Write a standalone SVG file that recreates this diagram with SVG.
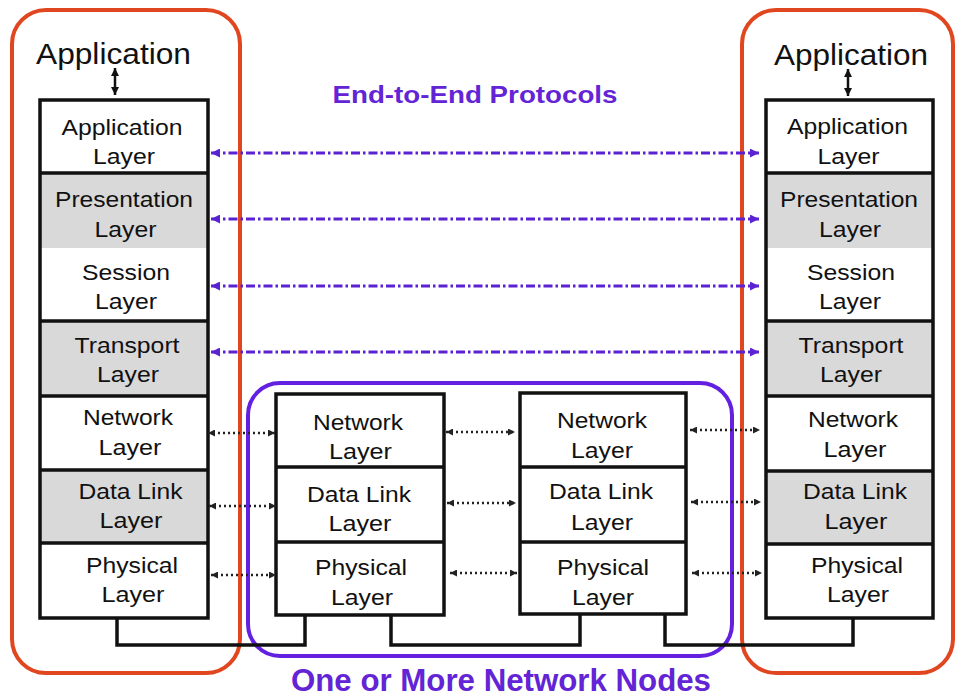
<svg xmlns="http://www.w3.org/2000/svg" width="957" height="697" viewBox="0 0 957 697">
<style>
.t{font-family:"Liberation Sans",Arial,sans-serif;font-size:22px;fill:#111;text-anchor:middle}
.big{font-family:"Liberation Sans",Arial,sans-serif;font-size:29px;fill:#111;text-anchor:middle}
.ttl{font-family:"Liberation Sans",Arial,sans-serif;font-weight:bold;fill:#6324d6;text-anchor:middle}
.w{fill:#fff}
.g{fill:#d9d9d9}
.div{stroke:#111;stroke-width:3.5}
.frame{fill:none;stroke:#111;stroke-width:3.5}
.orange{fill:none;stroke:#e0461f;stroke-width:4}
.purple{fill:none;stroke:#6420e0;stroke-width:4}
.dot{stroke:#222;stroke-width:2.5;stroke-dasharray:2 3;fill:none;marker-start:url(#ab);marker-end:url(#ab)}
.dd{stroke:#5a22d2;stroke-width:3;stroke-dasharray:9 3 2.5 3;fill:none;marker-start:url(#ap);marker-end:url(#ap)}
.wire{stroke:#111;stroke-width:3.5;fill:none}
.va{stroke:#111;stroke-width:2.5;fill:none;marker-start:url(#ak);marker-end:url(#ak)}
</style>
<defs>
<marker id="ab" viewBox="0 0 10 10" refX="10" refY="5" markerWidth="8" markerHeight="7" orient="auto-start-reverse" markerUnits="userSpaceOnUse"><path d="M0,0 L10,5 L0,10 z" fill="#222"/></marker>
<marker id="ap" viewBox="0 0 10 10" refX="10" refY="5" markerWidth="11" markerHeight="9" orient="auto-start-reverse" markerUnits="userSpaceOnUse"><path d="M0,0 L10,5 L0,10 z" fill="#5a22d2"/></marker>
<marker id="ak" viewBox="0 0 10 10" refX="10" refY="5" markerWidth="8" markerHeight="8" orient="auto-start-reverse" markerUnits="userSpaceOnUse"><path d="M0,0 L10,5 L0,10 z" fill="#111"/></marker>
</defs>
<rect width="957" height="697" fill="#fff"/>

<!-- frames -->
<g id="left-host-frame"><rect class="orange" x="12" y="10" width="228" height="663" rx="34"/></g>
<g id="right-host-frame"><rect class="orange" x="742" y="10" width="211" height="663" rx="34"/></g>
<g id="network-nodes-frame"><rect class="purple" x="248" y="383" width="484" height="273" rx="32"/></g>

<!-- titles -->
<text class="ttl" x="475" y="103" font-size="24" textLength="285" lengthAdjust="spacingAndGlyphs">End-to-End Protocols</text>
<text class="ttl" x="501" y="691" font-size="31" textLength="420" lengthAdjust="spacingAndGlyphs">One or More Network Nodes</text>

<!-- application labels -->
<g id="left-application"><text class="big" x="113.5" y="64" textLength="155" lengthAdjust="spacingAndGlyphs">Application</text></g>
<g id="right-application"><text class="big" x="851" y="65" textLength="154" lengthAdjust="spacingAndGlyphs">Application</text></g>

<!-- left stack -->
<g id="left-stack">
<g id="left-application-layer"><rect class="w" x="40" y="100" width="168" height="73"/><text class="t" x="122" y="135" textLength="121" lengthAdjust="spacingAndGlyphs">Application</text><text class="t" x="124" y="164" textLength="62" lengthAdjust="spacingAndGlyphs">Layer</text></g>
<g id="left-presentation-layer"><rect class="g" x="40" y="173" width="168" height="75"/><text class="t" x="124" y="207" textLength="138" lengthAdjust="spacingAndGlyphs">Presentation</text><text class="t" x="125.5" y="237" textLength="62" lengthAdjust="spacingAndGlyphs">Layer</text></g>
<g id="left-session-layer"><rect class="w" x="40" y="248" width="168" height="73"/><text class="t" x="126" y="280" textLength="88" lengthAdjust="spacingAndGlyphs">Session</text><text class="t" x="126" y="309" textLength="62" lengthAdjust="spacingAndGlyphs">Layer</text></g>
<g id="left-transport-layer"><rect class="g" x="40" y="321" width="168" height="75"/><text class="t" x="127" y="353" textLength="105" lengthAdjust="spacingAndGlyphs">Transport</text><text class="t" x="128" y="382" textLength="62" lengthAdjust="spacingAndGlyphs">Layer</text></g>
<g id="left-network-layer"><rect class="w" x="40" y="396" width="168" height="74"/><text class="t" x="128" y="425" textLength="90" lengthAdjust="spacingAndGlyphs">Network</text><text class="t" x="130" y="455" textLength="63" lengthAdjust="spacingAndGlyphs">Layer</text></g>
<g id="left-datalink-layer"><rect class="g" x="40" y="470" width="168" height="73"/><text class="t" x="130.5" y="499" textLength="104" lengthAdjust="spacingAndGlyphs">Data Link</text><text class="t" x="131" y="528" textLength="63" lengthAdjust="spacingAndGlyphs">Layer</text></g>
<g id="left-physical-layer"><rect class="w" x="40" y="543" width="168" height="75"/><text class="t" x="132" y="573" textLength="92" lengthAdjust="spacingAndGlyphs">Physical</text><text class="t" x="133" y="602" textLength="63" lengthAdjust="spacingAndGlyphs">Layer</text></g>
<path class="div" d="M40,173H208M40,321H208M40,396H208M40,470H208M40,543H208"/>
<rect class="frame" x="40" y="100" width="168" height="518"/>
</g>

<!-- right stack -->
<g id="right-stack">
<g id="right-application-layer"><rect class="w" x="766" y="100" width="167" height="73"/><text class="t" x="847.5" y="134" textLength="121" lengthAdjust="spacingAndGlyphs">Application</text><text class="t" x="848.5" y="164" textLength="62" lengthAdjust="spacingAndGlyphs">Layer</text></g>
<g id="right-presentation-layer"><rect class="g" x="766" y="173" width="167" height="75"/><text class="t" x="849" y="207" textLength="138" lengthAdjust="spacingAndGlyphs">Presentation</text><text class="t" x="850" y="237" textLength="62" lengthAdjust="spacingAndGlyphs">Layer</text></g>
<g id="right-session-layer"><rect class="w" x="766" y="248" width="167" height="73"/><text class="t" x="851" y="280" textLength="88" lengthAdjust="spacingAndGlyphs">Session</text><text class="t" x="850" y="309" textLength="62" lengthAdjust="spacingAndGlyphs">Layer</text></g>
<g id="right-transport-layer"><rect class="g" x="766" y="321" width="167" height="75"/><text class="t" x="851" y="353" textLength="105" lengthAdjust="spacingAndGlyphs">Transport</text><text class="t" x="851" y="382" textLength="62" lengthAdjust="spacingAndGlyphs">Layer</text></g>
<g id="right-network-layer"><rect class="w" x="766" y="396" width="167" height="75"/><text class="t" x="853" y="427" textLength="90" lengthAdjust="spacingAndGlyphs">Network</text><text class="t" x="855" y="457" textLength="63" lengthAdjust="spacingAndGlyphs">Layer</text></g>
<g id="right-datalink-layer"><rect class="g" x="766" y="471" width="167" height="73"/><text class="t" x="855" y="499" textLength="104" lengthAdjust="spacingAndGlyphs">Data Link</text><text class="t" x="856" y="529" textLength="63" lengthAdjust="spacingAndGlyphs">Layer</text></g>
<g id="right-physical-layer"><rect class="w" x="766" y="544" width="167" height="74"/><text class="t" x="857" y="573" textLength="92" lengthAdjust="spacingAndGlyphs">Physical</text><text class="t" x="858" y="602" textLength="62" lengthAdjust="spacingAndGlyphs">Layer</text></g>
<path class="div" d="M766,173H933M766,321H933M766,396H933M766,471H933M766,544H933"/>
<rect class="frame" x="766" y="100" width="167" height="518"/>
</g>

<!-- router node 1 -->
<g id="node1">
<g id="node1-network-layer"><rect class="w" x="276" y="394" width="168" height="73"/><text class="t" x="358" y="430" textLength="90" lengthAdjust="spacingAndGlyphs">Network</text><text class="t" x="360.5" y="459" textLength="63" lengthAdjust="spacingAndGlyphs">Layer</text></g>
<g id="node1-datalink-layer"><rect class="w" x="276" y="467" width="168" height="75"/><text class="t" x="359" y="502" textLength="104" lengthAdjust="spacingAndGlyphs">Data Link</text><text class="t" x="360" y="531" textLength="63" lengthAdjust="spacingAndGlyphs">Layer</text></g>
<g id="node1-physical-layer"><rect class="w" x="276" y="542" width="168" height="73"/><text class="t" x="361" y="575" textLength="92" lengthAdjust="spacingAndGlyphs">Physical</text><text class="t" x="362" y="605" textLength="62" lengthAdjust="spacingAndGlyphs">Layer</text></g>
<path class="div" d="M276,467H444M276,542H444"/>
<rect class="frame" x="276" y="394" width="168" height="221"/>
</g>

<!-- router node 2 -->
<g id="node2">
<g id="node2-network-layer"><rect class="w" x="520" y="393" width="166" height="74"/><text class="t" x="602" y="428" textLength="90" lengthAdjust="spacingAndGlyphs">Network</text><text class="t" x="602" y="458" textLength="62" lengthAdjust="spacingAndGlyphs">Layer</text></g>
<g id="node2-datalink-layer"><rect class="w" x="520" y="467" width="166" height="75"/><text class="t" x="601" y="499" textLength="104" lengthAdjust="spacingAndGlyphs">Data Link</text><text class="t" x="602" y="530" textLength="62" lengthAdjust="spacingAndGlyphs">Layer</text></g>
<g id="node2-physical-layer"><rect class="w" x="520" y="542" width="166" height="72"/><text class="t" x="603" y="575" textLength="92" lengthAdjust="spacingAndGlyphs">Physical</text><text class="t" x="603" y="605" textLength="62" lengthAdjust="spacingAndGlyphs">Layer</text></g>
<path class="div" d="M520,467H686M520,542H686"/>
<rect class="frame" x="520" y="393" width="166" height="221"/>
</g>

<!-- connectors -->
<g id="connectors">
<line class="va" x1="115" y1="68" x2="115" y2="95"/>
<line class="va" x1="848" y1="69" x2="848" y2="96"/>

<line class="dd" x1="211" y1="153" x2="759" y2="153"/>
<line class="dd" x1="211" y1="219" x2="759" y2="219"/>
<line class="dd" x1="211" y1="286" x2="759" y2="286"/>
<line class="dd" x1="211" y1="352" x2="759" y2="352"/>

<line class="dot" x1="208" y1="433" x2="275" y2="433"/>
<line class="dot" x1="209" y1="506" x2="276" y2="506"/>
<line class="dot" x1="211" y1="575" x2="276" y2="575"/>
<line class="dot" x1="446" y1="432" x2="515" y2="432"/>
<line class="dot" x1="447" y1="503" x2="516" y2="503"/>
<line class="dot" x1="450" y1="573" x2="517" y2="573"/>
<line class="dot" x1="690" y1="430" x2="760" y2="430"/>
<line class="dot" x1="691" y1="502" x2="761" y2="502"/>
<line class="dot" x1="692" y1="573" x2="762" y2="573"/>

<path class="wire" d="M117,618V645H305V615"/>
<path class="wire" d="M391,615V645H580V614"/>
<path class="wire" d="M665,614V645H853V618"/>
</g>
</svg>
